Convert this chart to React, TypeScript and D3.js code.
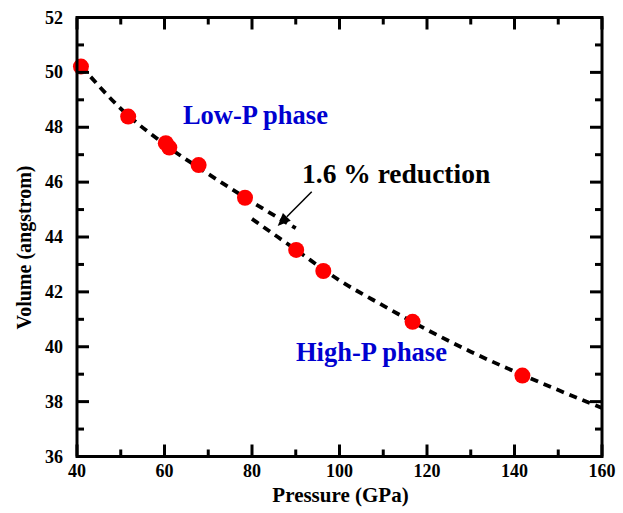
import React from "react";
import { scaleLinear, line, curveMonotoneX } from "d3";

const width = 623;
const height = 513;

// measured points: pressure (GPa) and volume (angstrom)
const pressures = [40.9, 51.7, 60.3, 61.1, 67.8, 78.4, 90.1, 96.3, 116.7, 141.8];
const volumes = [50.21, 48.39, 47.42, 47.26, 46.62, 45.43, 43.53, 42.76, 40.91, 38.95];

// fitted curves
const lowPFitP = [41, 50, 60, 70, 80, 90];
const lowPFitV = [50.22, 48.68, 47.38, 46.3, 45.28, 44.32];
const highPFitP = [80, 90, 100, 110, 120, 130, 140, 150, 160];
const highPFitV = [44.66, 43.54, 42.42, 41.5, 40.62, 39.82, 39.1, 38.42, 37.77];

const xMajor = [40, 60, 80, 100, 120, 140, 160];
const xMinor = [50, 70, 90, 110, 130, 150];
const yMajor = [36, 38, 40, 42, 44, 46, 48, 50, 52];
const yMinor = [37, 39, 41, 43, 45, 47, 49, 51];

const font = "Liberation Serif, serif";

export default function App() {
  const left = 77;
  const right = 602;
  const top = 17.5;
  const bottom = 456.5;

  const x = scaleLinear().domain([40, 160]).range([left, right]);
  const y = scaleLinear().domain([36, 52]).range([bottom, top]);

  const fitLine = line<number[]>()
    .x((d) => x(d[0]))
    .y((d) => y(d[1]))
    .curve(curveMonotoneX);

  const lowP = lowPFitP.map((p, i) => [p, lowPFitV[i]]);
  const highP = highPFitP.map((p, i) => [p, highPFitV[i]]);

  // arrow for the annotation, in data units
  const ax1 = x(93.65);
  const ay1 = y(45.65);
  const ax2 = x(85.87);
  const ay2 = y(44.4);
  const ang = Math.atan2(ay2 - ay1, ax2 - ax1);
  const headLen = 13;
  const headW = 5.5;
  const bx = ax2 - headLen * Math.cos(ang);
  const by = ay2 - headLen * Math.sin(ang);
  const head = [
    [ax2, ay2],
    [bx + headW * Math.sin(ang), by - headW * Math.cos(ang)],
    [bx - headW * Math.sin(ang), by + headW * Math.cos(ang)],
  ]
    .map((p) => p.join(","))
    .join(" ");

  return (
    <svg
      width={width}
      height={height}
      style={{
        position: "absolute",
        left: 0,
        top: 0,
        background: "white",
        fontFamily: font,
        fontWeight: "bold",
      }}
    >
      {/* fit curves */}
      <path
        d={fitLine(lowP) || ""}
        fill="none"
        stroke="black"
        strokeWidth={3.8}
        strokeDasharray="8,6"
      />
      <path
        d={fitLine(highP) || ""}
        fill="none"
        stroke="black"
        strokeWidth={3.8}
        strokeDasharray="8,6"
      />

      {/* data points */}
      {pressures.map((p, i) => (
        <circle key={i} cx={x(p)} cy={y(volumes[i])} r={8} fill="#ff0000" />
      ))}

      {/* frame */}
      <rect
        x={left}
        y={top}
        width={right - left}
        height={bottom - top}
        fill="none"
        stroke="black"
        strokeWidth={3}
      />

      {/* x ticks, bottom and top, pointing in */}
      {xMajor.map((t) => (
        <g key={"xM" + t}>
          <line x1={x(t)} x2={x(t)} y1={bottom} y2={bottom - 12} stroke="black" strokeWidth={3} />
          <line x1={x(t)} x2={x(t)} y1={top} y2={top + 12} stroke="black" strokeWidth={3} />
          <text x={x(t)} y={476.5} textAnchor="middle" fontSize={18}>
            {t}
          </text>
        </g>
      ))}
      {xMinor.map((t) => (
        <g key={"xm" + t}>
          <line x1={x(t)} x2={x(t)} y1={bottom} y2={bottom - 7} stroke="black" strokeWidth={3} />
          <line x1={x(t)} x2={x(t)} y1={top} y2={top + 7} stroke="black" strokeWidth={3} />
        </g>
      ))}

      {/* y ticks, left and right */}
      {yMajor.map((t) => (
        <g key={"yM" + t}>
          <line x1={left} x2={left + 12} y1={y(t)} y2={y(t)} stroke="black" strokeWidth={3} />
          <line x1={right} x2={right - 12} y1={y(t)} y2={y(t)} stroke="black" strokeWidth={3} />
          <text x={63} y={y(t) + 6} textAnchor="end" fontSize={18}>
            {t}
          </text>
        </g>
      ))}
      {yMinor.map((t) => (
        <g key={"ym" + t}>
          <line x1={left} x2={left + 7} y1={y(t)} y2={y(t)} stroke="black" strokeWidth={3} />
          <line x1={right} x2={right - 7} y1={y(t)} y2={y(t)} stroke="black" strokeWidth={3} />
        </g>
      ))}

      {/* axis titles */}
      <text x={(left + right) / 2 + 1} y={501.5} textAnchor="middle" fontSize={21}>
        Pressure (GPa)
      </text>
      <text
        transform={`translate(31, 247.5) rotate(-90)`}
        textAnchor="middle"
        fontSize={20}
      >
        Volume (angstrom)
      </text>

      {/* labels */}
      <text x={x(64.2)} y={y(48.12)} fontSize={26.5} fill="#0000d0">
        Low-P phase
      </text>
      <text x={x(90.06)} y={y(39.49)} fontSize={26.5} fill="#0000d0">
        High-P phase
      </text>
      <text x={x(91.43)} y={y(45.97)} fontSize={27.5} fill="black">
        1.6 % reduction
      </text>

      {/* arrow */}
      <line x1={ax1} y1={ay1} x2={bx} y2={by} stroke="black" strokeWidth={1.5} />
      <polygon points={head} fill="black" />
    </svg>
  );
}
